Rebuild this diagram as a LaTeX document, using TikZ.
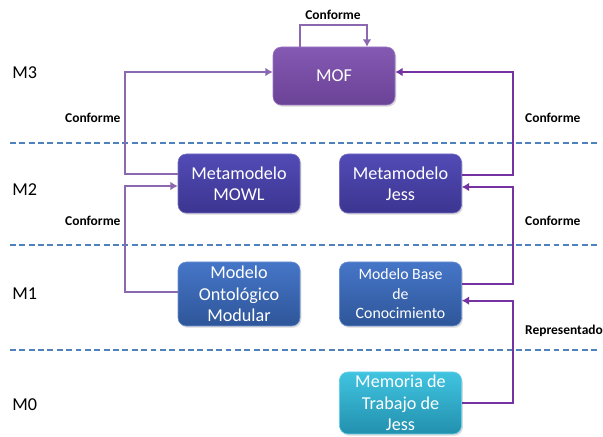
\documentclass[tikz,border=0pt]{standalone}
\usepackage{fontspec}
\setmainfont{Carlito}
\usetikzlibrary{positioning,arrows.meta,shadows}

\definecolor{mofTop}{HTML}{8459B3}
\definecolor{mofBot}{HTML}{6A4296}
\definecolor{metaTop}{HTML}{524BB6}
\definecolor{metaBot}{HTML}{3C3590}
\definecolor{modTop}{HTML}{4676C8}
\definecolor{modBot}{HTML}{2E5699}
\definecolor{memTop}{HTML}{40C4E0}
\definecolor{memBot}{HTML}{2290AE}
\definecolor{lineLight}{HTML}{8B68AF}
\definecolor{lineDark}{HTML}{7432A3}
\definecolor{levelBlue}{HTML}{4F81BD}

\begin{document}
\begin{tikzpicture}[node distance=4.845cm,
  box/.style={rectangle, rounded corners=0.25cm, text=white, align=center, inner sep=0pt,
    minimum width=3.66cm, font=\fontsize{15.5}{18.3}\selectfont,
    drop shadow={opacity=0.3, shadow xshift=0.04cm, shadow yshift=-0.05cm}},
  conf/.style={-{Latex[length=2.2mm,width=2.6mm]}, line width=1.5pt},
  lbl/.style={font=\bfseries\fontsize{11.5}{13}\selectfont, anchor=west},
  lvl/.style={font=\fontsize{15.5}{18}\selectfont, anchor=west},
  levelline/.style={levelBlue, line width=1.6pt, dash pattern=on 5pt off 3pt}]
  \useasboundingbox (0,0) rectangle (18.09,13.11);

  % Levels
  \draw[levelline] (0.3,8.82) -- (18.0,8.82);
  \draw[levelline] (0.3,5.76) -- (18.0,5.76);
  \draw[levelline] (0.3,2.61) -- (18.0,2.61);
  \node[lvl] (m3) at (0.25,10.92) {M3};
  \node[lvl] (m2) at (0.25,7.41) {M2};
  \node[lvl] (m1) at (0.25,4.29) {M1};
  \node[lvl] (m0) at (0.25,0.96) {M0};

  % Nodes
  \node[box, minimum height=1.74cm, top color=mofTop, bottom color=mofBot, draw=mofTop!80!white, line width=0.5pt] (mof) at (10.02,10.83) {MOF};
  \node[box, minimum height=1.77cm, top color=metaTop, bottom color=metaBot, draw=metaTop!80!white, line width=0.5pt] (mowl) at (7.17,7.605) {Metamodelo\\MOWL};
  \node[box, minimum height=1.77cm, top color=metaTop, bottom color=metaBot, draw=metaTop!80!white, line width=0.5pt, right of=mowl] (jess) {Metamodelo\\Jess};
  \node[box, minimum height=1.92cm, top color=modTop, bottom color=modBot, draw=modTop!80!white, line width=0.5pt, below of=mowl, node distance=3.315cm] (mom) {Modelo\\Ontológico\\Modular};
  \node[box, minimum height=1.92cm, top color=modTop, bottom color=modBot, draw=modTop!80!white, line width=0.5pt, below of=jess, node distance=3.315cm, font=\fontsize{13.5}{16.6}\selectfont] (mbc) {Modelo Base\\de\\Conocimiento};
  \node[box, minimum height=1.86cm, top color=memTop, bottom color=memBot, draw=memTop!80!white, line width=0.5pt, below of=mbc, node distance=3.27cm] (mem) {Memoria de\\Trabajo de\\Jess};

  % Edges
  \draw[conf, lineLight] ([xshift=-1.02cm]mof.north) -- ++(0,0.66) -| ([xshift=0.99cm]mof.north);
  \draw[conf, lineLight] ([yshift=0.285cm]mowl.west) -- ++(-1.59,0) |- ([yshift=0.12cm]mof.west);
  \draw[conf, lineLight] ([yshift=0.06cm]mom.west) -- ++(-1.59,0) |- ([yshift=-0.075cm]mowl.west);
  \draw[conf, lineDark] ([yshift=0.255cm]jess.east) -- ++(1.545,0) |- ([yshift=0.12cm]mof.east);
  \draw[conf, lineDark] ([yshift=0.3cm]mbc.east) -- ++(1.545,0) |- ([yshift=-0.105cm]jess.east);
  \draw[conf, lineDark] (mem.east) -- ++(1.545,0) |- ([yshift=-0.2cm]mbc.east);

  % Labels
  \node[lbl, anchor=center] (c0) at (9.99,12.66) {Conforme};
  \node[lbl] (c1) at (1.83,9.57) {Conforme};
  \node[lbl] (c2) at (1.83,6.48) {Conforme};
  \node[lbl] (c3) at (15.63,9.57) {Conforme};
  \node[lbl] (c4) at (15.63,6.48) {Conforme};
  \node[lbl] (c5) at (15.63,3.18) {Representado};
\end{tikzpicture}
\end{document}
